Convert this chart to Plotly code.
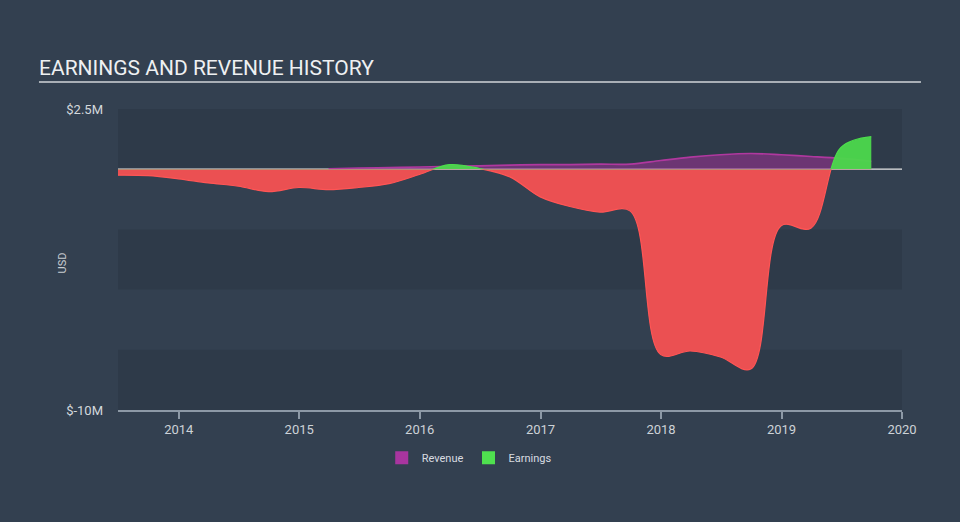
import plotly.graph_objects as go

# ---- data (USD millions) ----
earn_dates = ["2013-06-30", "2013-09-30", "2013-12-31", "2014-03-31", "2014-06-30", "2014-09-30",
              "2014-12-31", "2015-03-31", "2015-06-30", "2015-09-30", "2015-12-31", "2016-03-31",
              "2016-06-30", "2016-09-30", "2016-12-31", "2017-03-31", "2017-06-30", "2017-09-30",
              "2017-12-31", "2018-03-31", "2018-06-30", "2018-09-30", "2018-12-31", "2019-03-31",
              "2019-06-30", "2019-09-30"]
earnings = [-0.25, -0.27, -0.40, -0.57, -0.70, -0.93,
            -0.76, -0.85, -0.76, -0.60, -0.22, 0.19,
            0.03, -0.32, -1.15, -1.55, -1.78, -1.74,
            -7.70, -7.55, -7.80, -8.30, -2.35, -2.45,
            0.90, 1.35]

rev_dates = ["2015-03-31", "2015-06-30", "2015-09-30", "2015-12-31", "2016-03-31", "2016-06-30",
             "2016-09-30", "2016-12-31", "2017-03-31", "2017-06-30", "2017-09-30", "2017-12-31",
             "2018-03-31", "2018-06-30", "2018-09-30", "2018-12-31", "2019-03-31", "2019-06-30",
             "2019-09-30"]
revenue = [0.02, 0.05, 0.07, 0.09, 0.12, 0.14,
           0.17, 0.19, 0.19, 0.21, 0.21, 0.36,
           0.50, 0.60, 0.65, 0.60, 0.53, 0.45,
           0.33]

year_ticks = ["2014-01-01", "2015-01-01", "2016-01-01", "2017-01-01", "2018-01-01", "2019-01-01", "2020-01-01"]
year_labels = ["2014", "2015", "2016", "2017", "2018", "2019", "2020"]
y_ticks = [-10, 2.5]
y_labels = ["$-10M", "$2.5M"]

RED_FILL = "#eb5052"
RED_LINE = "#ff5555"
GREEN_FILL = "rgba(76,214,76,0.96)"
GREEN_LINE = "#4cdc4c"
PURPLE_LINE = "#b0389f"
PURPLE_FILL = "rgba(160,50,150,0.55)"
BG = "#334050"
BAND = "#2e3a49"

fig = go.Figure()

# negative part of earnings (clipped to lower sub-domain)
fig.add_trace(go.Scatter(x=earn_dates, y=earnings, yaxis="y2", mode="lines",
                         line=dict(color=RED_LINE, width=1.2, shape="spline", smoothing=1.0),
                         fill="tozeroy", fillcolor=RED_FILL, showlegend=False, hoverinfo="skip"))
# revenue (positive, upper sub-domain)
fig.add_trace(go.Scatter(x=rev_dates, y=revenue, yaxis="y3", mode="lines",
                         line=dict(color=PURPLE_LINE, width=1.6, shape="spline", smoothing=1.0),
                         fill="tozeroy", fillcolor=PURPLE_FILL, showlegend=False, hoverinfo="skip"))
# positive part of earnings (clipped to upper sub-domain)
fig.add_trace(go.Scatter(x=earn_dates, y=earnings, yaxis="y3", mode="lines",
                         line=dict(color=GREEN_LINE, width=1.2, shape="spline", smoothing=1.0),
                         fill="tozeroy", fillcolor=GREEN_FILL, showlegend=False, hoverinfo="skip"))

# legend entries
fig.add_trace(go.Scatter(x=[None], y=[None], mode="markers", name="Revenue",
                         marker=dict(symbol="square", size=13, color="#a8359f")))
fig.add_trace(go.Scatter(x=[None], y=[None], mode="markers", name="Earnings",
                         marker=dict(symbol="square", size=13, color="#4fe04f")))

shapes = []
for y0, y1 in [(0, 2.5), (-5, -2.5), (-10, -7.5)]:
    shapes.append(dict(type="rect", xref="paper", yref="y", x0=0, x1=1, y0=y0, y1=y1,
                       fillcolor=BAND, line=dict(width=0), layer="below"))
shapes.append(dict(type="line", xref="paper", yref="y", x0=0, x1=1, y0=0, y1=0,
                   line=dict(color="#e6e6e6", width=1.2), layer="below"))
# title underline
shapes.append(dict(type="line", xref="paper", yref="paper", x0=-0.1008, x1=1.0242,
                   y0=1.0897, y1=1.0897, line=dict(color="#a9afb6", width=2)))

fig.update_layout(
    width=960, height=522,
    margin=dict(l=118, r=58, t=109, b=112),
    paper_bgcolor=BG, plot_bgcolor="rgba(0,0,0,0)",
    font=dict(family="Roboto", color="#d0d4d8"),
    shapes=shapes,
    xaxis=dict(type="date", range=["2013-07-01", "2020-01-01"],
               tickvals=year_ticks, ticktext=year_labels,
               showline=True, linecolor="#8d99a6", linewidth=1.5,
               ticks="outside", ticklen=7, tickcolor="#8d99a6", tickwidth=1.5,
               tickfont=dict(size=13, color="#cdd2d7"),
               showgrid=False, zeroline=False, fixedrange=True),
    yaxis=dict(domain=[0, 1], range=[-10, 2.5], tickvals=y_ticks, ticktext=y_labels,
               ticks="", ticklabelstandoff=14, tickfont=dict(size=13, color="#d4d8dc"),
               showgrid=False, zeroline=False, showline=False),
    yaxis2=dict(domain=[0, 0.8], range=[-10, 0], anchor="x", visible=False,
                showgrid=False, zeroline=False),
    yaxis3=dict(domain=[0.8, 1], range=[0, 2.5], anchor="x", visible=False,
                showgrid=False, zeroline=False),
    legend=dict(orientation="h", x=0.448, xanchor="center", y=-0.159, yanchor="middle",
                font=dict(size=11, color="#d8dce0"), bgcolor="rgba(0,0,0,0)"),
    annotations=[
        dict(text="EARNINGS AND REVENUE HISTORY", xref="paper", yref="paper",
             x=-0.1035, y=1.136, xanchor="left", yanchor="middle", showarrow=False,
             font=dict(size=21, color="#eef0f2", family="Roboto")),
        dict(text="USD", xref="paper", yref="paper", x=-0.0702, y=0.49,
             xanchor="center", yanchor="middle", textangle=-90, showarrow=False,
             font=dict(size=11, color="#c8ccd0")),
    ],
)

fig.write_html("out.html")
